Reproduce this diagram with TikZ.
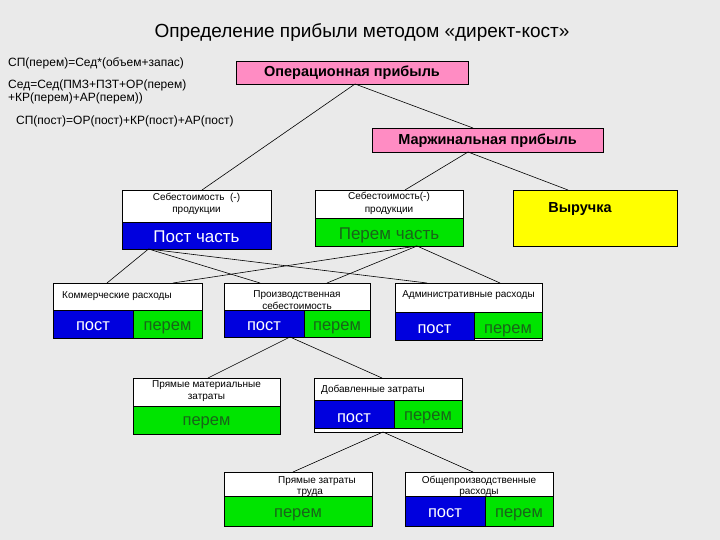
\documentclass[tikz,border=0pt]{standalone}
\usepackage{fontspec}
\setmainfont{Liberation Sans}
\definecolor{bg}{RGB}{234,234,234}
\definecolor{pinkbox}{RGB}{255,140,195}
\definecolor{bluebox}{RGB}{0,0,222}
\definecolor{greenbox}{RGB}{0,228,0}
\definecolor{greentext}{RGB}{25,100,25}
\definecolor{yellowbox}{RGB}{255,255,0}
\newcommand\mybox[6]{\node[bx, fill=#6, minimum width={(#4-#2)*1pt}, minimum height={(#5-#3)*1pt}] (#1) at (#2,#3) {};}
\begin{document}
\begin{tikzpicture}[x=1pt,y=-1pt,
  bx/.style={draw=black, line width=0.8pt, inner sep=0pt, outer sep=0pt, anchor=north west},
  con/.style={draw=black, line width=0.6pt},
  tiny/.style={font=\fontsize{10}{11}\selectfont, anchor=base, inner sep=0pt},
  formula/.style={font=\fontsize{12}{13}\selectfont, anchor=base west, inner sep=0pt},
  head/.style={font=\bfseries\fontsize{14.5}{16}\selectfont, anchor=base, inner sep=0pt},
  wt/.style={font=\fontsize{16.5}{18}\selectfont, text=white, anchor=base, inner sep=0pt},
  gt/.style={font=\fontsize{16.5}{18}\selectfont, text=greentext, anchor=base, inner sep=0pt}]
\fill[bg] (0,0) rectangle (720,540);
\useasboundingbox (0,0) rectangle (720,540);

% title and formulas
\node[font=\fontsize{19}{21}\selectfont, anchor=base, inner sep=0pt] (title) at (362,38) {Определение прибыли методом «директ-кост»};
\node[formula] (f1) at (8,67) {СП(перем)=Сед*(объем+запас)};
\node[formula] (f2) at (8,89) {Сед=Сед(ПМЗ+ПЗТ+ОР(перем)};
\node[formula] (f3) at (8,102) {+КР(перем)+АР(перем))};
\node[formula] (f4) at (16,125) {СП(пост)=ОР(пост)+КР(пост)+АР(пост)};

% top boxes
\mybox{opr}{236}{61}{468}{84}{pinkbox}
\node[head] (oprt) at (352,77) {Операционная прибыль};
\mybox{mar}{372}{128}{603}{152}{pinkbox}
\node[head] (mart) at (487.5,145) {Маржинальная прибыль};

% level 2
\mybox{sl}{122}{190}{271}{249}{white}
\mybox{slp}{122}{222}{271}{249}{bluebox}
\node[tiny] (slt1) at (196.5,201) {Себестоимость\ \ (-)};
\node[tiny] (slt2) at (196.5,213) {продукции};
\node[wt, font=\fontsize{17}{18}\selectfont] (slpt) at (196.5,243) {Пост часть};

\mybox{sr}{315}{190}{463}{246}{white}
\mybox{srv}{315}{218}{463}{246}{greenbox}
\node[tiny] (srt1) at (389,200) {Себестоимость(-)};
\node[tiny] (srt2) at (389,212) {продукции};
\node[gt, font=\fontsize{17}{18}\selectfont] (srvt) at (389,240) {Перем часть};

\mybox{vy}{513}{190}{677}{246}{yellowbox}
\node[head] (vyt) at (580,212) {Выручка};

% level 3
\mybox{km}{53}{283}{202}{338}{white}
\mybox{kmp}{53}{310}{133}{338}{bluebox}
\mybox{kmv}{133}{310}{202}{338}{greenbox}
\node[tiny, anchor=base west] (kmt) at (62,298) {Коммерческие расходы};
\node[wt] (kmpt) at (93,330) {пост};
\node[gt] (kmvt) at (167.5,330) {перем};

\mybox{pr}{224}{283}{370}{337}{white}
\node[tiny] (prt1) at (297,297) {Производственная};
\node[tiny] (prt2) at (297,309.5) {себестоимость};
\mybox{prp}{224}{310}{304}{337}{bluebox}
\mybox{prv}{304}{310}{370}{337}{greenbox}
\node[wt] (prpt) at (264,330) {пост};
\node[gt] (prvt) at (337,330) {перем};

\mybox{ad}{395}{283}{542}{340}{white}
\mybox{adp}{395}{312}{474}{340}{bluebox}
\mybox{adv}{474}{312}{542}{338}{greenbox}
\node[tiny] (adt) at (468.5,297) {Административные расходы};
\node[wt] (adpt) at (434.5,333) {пост};
\node[gt] (advt) at (508,333) {перем};

% level 4
\mybox{pm}{133}{378}{280}{434}{white}
\mybox{pmv}{133}{406}{280}{434}{greenbox}
\node[tiny] (pmt1) at (206.5,387) {Прямые материальные};
\node[tiny] (pmt2) at (206.5,399) {затраты};
\node[gt] (pmvt) at (206.5,425) {перем};

\mybox{db}{314}{378}{462}{432}{white}
\mybox{dbp}{314}{400}{394}{428}{bluebox}
\mybox{dbv}{394}{400}{462}{428}{greenbox}
\node[tiny, anchor=base west] (dbt) at (321,392) {Добавленные затраты};
\node[wt] (dbpt) at (354,422) {пост};
\node[gt] (dbvt) at (428,420) {перем};

% level 5
\mybox{pt}{224}{472}{372}{526}{white}
\mybox{ptv}{224}{496}{372}{526}{greenbox}
\node[tiny] (ptt1) at (317,483) {Прямые затраты};
\node[tiny] (ptt2) at (310,494) {труда};
\node[gt] (ptvt) at (298,517) {перем};

\mybox{og}{405}{472}{553}{526}{white}
\mybox{ogp}{405}{496}{485}{526}{bluebox}
\mybox{ogv}{485}{496}{553}{526}{greenbox}
\node[tiny] (ogt1) at (479,483) {Общепроизводственные};
\node[tiny] (ogt2) at (479,494) {расходы};
\node[wt] (ogpt) at (445,517) {пост};
\node[gt] (ogvt) at (519,517) {перем};

% connectors
\draw[con] ([xshift=3pt]opr.south) -- ([xshift=5.5pt]sl.north);
\draw[con] ([xshift=3pt]opr.south) -- ([xshift=-14.5pt]mar.north);
\draw[con] ([xshift=-19.5pt]mar.south) -- ([xshift=16pt]sr.north);
\draw[con] ([xshift=-19.5pt]mar.south) -- ([xshift=-27pt]vy.north);

\draw[con] ([xshift=-48pt]sl.south) -- ([xshift=-20.5pt]km.north);
\draw[con] ([xshift=-48pt]sl.south) -- ([xshift=-37pt]pr.north);
\draw[con] ([xshift=-48pt]sl.south) -- ([xshift=-41.5pt]ad.north);
\draw[con] ([xshift=28pt]sr.south) -- ([xshift=45.5pt]km.north);
\draw[con] ([xshift=28pt]sr.south) -- ([xshift=30pt]pr.north);
\draw[con] ([xshift=28pt]sr.south) -- ([xshift=31.5pt]ad.north);

\draw[con] ([xshift=-7pt]pr.south) -- ([xshift=1.5pt]pm.north);
\draw[con] ([xshift=-7pt]pr.south) -- ([xshift=-6pt]db.north);

\draw[con] ([xshift=-5pt]db.south) -- ([xshift=-5pt]pt.north);
\draw[con] ([xshift=-5pt]db.south) -- ([xshift=-6pt]og.north);
\end{tikzpicture}
\end{document}
